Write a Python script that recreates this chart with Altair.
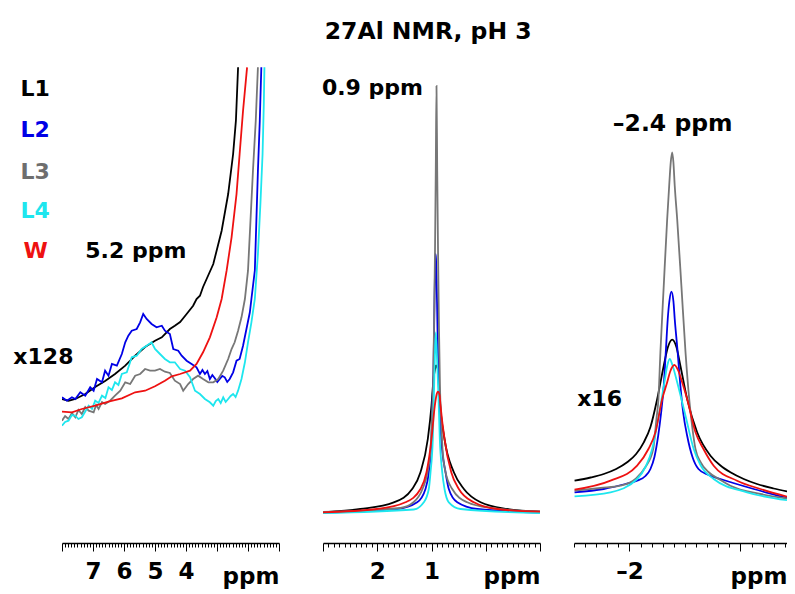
import altair as alt
import pandas as pd

FONT = "DejaVu Sans"
SERIES = ["L1", "L2", "L3", "L4", "W"]
COLORS = ["#000000", "#0000e6", "#777777", "#1ee6ee", "#ee1111"]

# ---------------- panel 1 (x128), ppm / intensity ----------------
P1_L1_PPM = [8.00, 7.79, 7.57, 7.25, 6.93, 6.61, 6.29, 5.96, 5.64, 5.32, 5.00, 4.78, 4.52, 4.36, 4.19, 3.98, 3.77, 3.66, 3.55, 3.45, 3.12, 2.85, 2.64, 2.48, 2.39, 2.32]
P1_L1_VAL = [144, 142.3, 144, 149, 156, 162, 169, 177.3, 187.3, 196, 202.3, 205.7, 214, 217.3, 221, 229, 237.3, 244, 247.3, 256, 279, 312.3, 349, 389, 422.3, 475.7]

P1_L2_PPM = [8.00, 7.84, 7.68, 7.57, 7.41, 7.25, 7.09, 6.98, 6.87, 6.71, 6.61, 6.50, 6.39, 6.23, 6.07, 5.96, 5.86, 5.75, 5.59, 5.48,
             5.38, 5.27, 5.11, 4.95, 4.78, 4.68, 4.52, 4.41, 4.25, 4.14, 3.98, 3.82, 3.66, 3.55, 3.47, 3.39, 3.31, 3.23, 3.15, 3.07,
             2.99, 2.91, 2.83, 2.75, 2.67, 2.59, 2.48, 2.37, 2.27, 2.16, 2.05, 1.94, 1.89, 1.78, 1.73, 1.68, 1.62, 1.57]
P1_L2_VAL = [145.7, 142.3, 145.7, 144, 150.7, 147.3, 155.7, 152.3, 164, 160.7, 172.3, 167.3, 179, 177.3, 189, 200.7, 207.3, 212.3, 214, 220.7,
             229, 224, 219, 215.7, 217.3, 212.3, 209, 194, 192.3, 187.3, 182.3, 179, 175.7, 169, 173, 169, 172, 164, 168, 164.7,
             161, 164, 167, 165.7, 161, 164, 170.7, 182.3, 184, 197.3, 214, 230.7, 244, 272.3, 322.3, 372.3, 422.3, 475.7]

P1_L3_PPM = [8.00, 7.90, 7.79, 7.68, 7.57, 7.47, 7.36, 7.25, 7.14, 6.98, 6.90, 6.82, 6.71, 6.61, 6.45, 6.29, 6.12, 5.96, 5.80, 5.64,
             5.48, 5.32, 5.16, 5.00, 4.84, 4.68, 4.52, 4.36, 4.19, 4.09, 3.93, 3.77, 3.61, 3.45, 3.28, 3.12, 2.96, 2.80, 2.64, 2.53,
             2.43, 2.32, 2.21, 2.10, 2.00, 1.92, 1.84, 1.75, 1.68]
P1_L3_VAL = [122.3, 127, 124, 130, 125.7, 133, 129, 136, 132.3, 130.7, 138, 134, 141, 139, 142.3, 147.3, 152.3, 160.7, 159, 167.3,
             169, 174, 172.3, 172.3, 174, 171.3, 170, 162.3, 159, 152.3, 159, 164, 167.3, 164, 160.7, 160.7,
             164, 172.3, 184, 194, 200.7, 212.3, 225.7, 244, 272.3, 322.3, 372.3, 422.3, 475.7]

P1_L4_PPM = [8.00, 7.90, 7.79, 7.68, 7.57, 7.47, 7.36, 7.14, 7.03, 6.93, 6.82, 6.71, 6.60, 6.50, 6.39, 6.29, 6.18, 6.07, 5.91, 5.75,
             5.59, 5.43, 5.27, 5.11, 5.00, 4.84, 4.68, 4.52, 4.36, 4.19, 4.03, 3.87, 3.71, 3.55, 3.39, 3.23, 3.12, 3.04, 2.96, 2.88,
             2.80, 2.72, 2.64, 2.56, 2.48, 2.40, 2.32, 2.21, 2.10, 2.00, 1.89, 1.78, 1.68, 1.60, 1.53, 1.49, 1.47]
P1_L4_VAL = [117.3, 121, 122.3, 128, 127.3, 124, 125.7, 137.3, 134, 142.3, 140, 147.3, 145, 155.7, 153, 160.7, 158, 169, 170.7, 185.7,
             187.3, 194, 197.3, 200.7, 194, 189, 184, 180.7, 180.7, 174, 172.3, 165.7, 152.3, 149, 144, 140.7, 137.3, 142, 144, 140,
             145.7, 141, 144, 147, 149, 146, 152.3, 164, 180.7, 200.7, 220.7, 244, 289, 339, 389, 439, 475.7]

P1_W_PPM = [8.00, 7.68, 7.36, 6.93, 6.50, 6.07, 5.64, 5.32, 5.00, 4.68, 4.46, 4.19, 3.87, 3.66, 3.45, 3.23, 3.01, 2.85, 2.69, 2.53, 2.37, 2.27, 2.16, 2.03]
P1_W_VAL = [131.3, 130.7, 134, 137.3, 141.3, 144.7, 150.7, 152.3, 156.7, 162.3, 166.7, 169, 172.3, 179, 190.7, 205.7, 225.7, 244, 272.3, 305.7, 349, 389, 432.3, 475.7]

# ---------------- panel 2 (0.9 ppm) ----------------
P2_L1_PPM = [3.0, 2.311, 1.696, 1.356, 1.203, 1.068, 1.0, 0.963, 0.935, 0.917, 0.895, 0.871, 0.847, 0.76, 0.588, 0.403, 0.095, -0.398, -1.0]
P2_L1_VAL = [30.7, 34, 40.7, 54, 70.7, 104, 137.3, 164, 174, 177.5, 176, 169, 144, 104, 70.7, 54, 40.7, 34, 31.3]

P2_L2_PPM = [3.0, 1.633, 1.264, 1.111, 1.05, 1.0, 0.981, 0.963, 0.945, 0.935, 0.926, 0.917, 0.898, 0.876, 0.852, 0.821, 0.741, 0.681, 0.525, 0.156, -1.0]
P2_L2_VAL = [30.5, 34, 40.7, 54, 70.7, 104, 141, 174, 241, 272, 289, 284, 241, 174, 141, 104, 70.7, 54, 40.7, 34, 30.5]

P2_L3_PPM = [3.0, 1.573, 1.332, 1.166, 1.074, 1.018, 0.994, 0.972, 0.954, 0.935, 0.921, 0.908, 0.895, 0.88, 0.862, 0.843, 0.821, 0.797, 0.741, 0.618, 0.341, -0.09, -1.0]
P2_L3_VAL = [31, 35, 40.7, 54, 70.7, 94, 124, 154, 214, 294, 374, 457, 374, 294, 214, 154, 124, 94, 70.7, 54, 40.7, 35, 31.5]

P2_L4_PPM = [3.0, 1.327, 1.142, 1.05, 1.018, 0.976, 0.957, 0.939, 0.921, 0.898, 0.876, 0.847, 0.802, 0.76, 0.681, 0.464, -1.0]
P2_L4_VAL = [30, 33.5, 40.7, 54, 70.7, 104, 144, 184, 210.7, 184, 154, 104, 70.7, 54, 40.7, 34, 30]

P2_W_PPM = [3.0, 2.003, 1.48, 1.203, 1.092, 1.0, 0.939, 0.908, 0.88, 0.852, 0.834, 0.76, 0.636, 0.496, 0.219, -0.213, -1.0]
P2_W_VAL = [30.7, 34, 40.7, 54, 70.7, 104, 137.3, 148, 151.3, 148, 137.3, 104, 70.7, 54, 40.7, 34, 31.3]

# ---------------- panel 3 (-2.4 ppm, x16) ----------------
P3_L1_PPM = [-1.505, -1.65, -1.768, -1.88, -1.979, -2.06, -2.129, -2.189, -2.25, -2.309, -2.347, -2.385, -2.423, -2.459, -2.52,
             -2.61, -2.73, -2.82, -2.91, -3.03, -3.15, -3.3, -3.42]
P3_L1_VAL = [62.3, 65.5, 69, 74, 80.7, 89, 100.7, 116, 144, 177.3, 196, 203.3, 196, 177.3, 144,
             110.7, 87.3, 77.5, 70.7, 64, 59, 54.5, 51.5]

P3_L2_PPM = [-1.505, -1.768, -1.964, -2.069, -2.144, -2.189, -2.225, -2.259, -2.284, -2.309, -2.329, -2.345, -2.36, -2.378,
             -2.396, -2.408, -2.432, -2.459, -2.486, -2.52, -2.568, -2.622, -2.712, -2.82, -3.12, -3.42]
P3_L2_VAL = [50.7, 54, 59, 62.3, 67, 74, 86, 107.3, 129, 157.3, 194, 224, 242, 251.3,
             242, 224, 194, 157.3, 129, 107.3, 86, 74, 68, 64, 54, 45]

P3_L3_PPM = [-1.505, -1.739, -1.919, -2.054, -2.144, -2.214, -2.243, -2.261, -2.279, -2.309, -2.34, -2.358, -2.372, -2.385,
             -2.396, -2.408, -2.43, -2.468, -2.505, -2.541, -2.568, -2.595, -2.64, -2.712, -2.82, -2.91, -3.18, -3.42]
P3_L3_VAL = [52.3, 55, 57.3, 64, 76, 94, 124, 144, 191, 257.3, 324, 357.3, 380.7, 390.7,
             380.7, 357.3, 324, 257.3, 191, 141, 114, 94, 81, 71, 63, 57.3, 49, 44.5]

P3_L4_PPM = [-1.505, -1.829, -2.069, -2.144, -2.205, -2.264, -2.315, -2.342, -2.363, -2.387, -2.43, -2.505, -2.579, -2.64, -2.759, -3.06, -3.42]
P3_L4_VAL = [46.7, 50.7, 64, 76, 94, 127.3, 160.7, 178, 184, 178, 160.7, 127.3, 94, 78, 64, 50.7, 42.8]

P3_W_PPM = [-1.505, -1.829, -2.069, -2.171, -2.234, -2.295, -2.34, -2.369, -2.405, -2.441, -2.475, -2.52, -2.595, -2.667, -2.759, -2.97, -3.18, -3.42]
P3_W_VAL = [53.3, 62.3, 77.3, 94, 110.7, 144, 160.7, 172, 178, 172, 160.7, 144, 110.7, 94, 77.3, 62.3, 54, 46.3]

# ---------------- annotations ----------------
P1_TEXT = ["L1", "L2", "L3", "L4", "W", "5.2 ppm", "x128"]
P1_TEXT_PPM = [9.34, 9.34, 9.34, 9.34, 9.24, 7.25, 9.57]
P1_TEXT_VAL = [447, 406, 364, 325, 285, 285, 179]
P1_TEXT_COL = ["#000000", "#0000e6", "#6e6e6e", "#1ee6ee", "#ee1111", "#000000", "#000000"]
P1_TEXT_SIZE = [22, 22, 22, 22, 22, 22, 22]

P2_TEXT = ["0.9 ppm"]
P2_TEXT_PPM = [3.02]
P2_TEXT_VAL = [448]
P2_TEXT_SIZE = [22]

P3_TEXT = ["\u20132.4 ppm", "x16"]
P3_TEXT_PPM = [-1.85, -1.53]
P3_TEXT_VAL = [412, 137.3]
P3_TEXT_SIZE = [23.5, 22]

H = 476
Y_DOMAIN = [0, 476]


def frame(series_data):
    rows = []
    for name, (pp, vv) in zip(SERIES, series_data):
        for i, (p, v) in enumerate(zip(pp, vv)):
            rows.append({"series": name, "ppm": p, "val": v, "i": i})
    return pd.DataFrame(rows)


def panel(df, domain, width, ticks, label_expr, tdf, interp):
    axis = alt.Axis(
        values=ticks, labelExpr=label_expr, title="ppm",
        titleX=width, titleY=40, titleAlign="right", titleBaseline="alphabetic",
        titleFont=FONT, titleFontSize=23, titleFontWeight="bold", titleColor="black",
        labelFont=FONT, labelFontSize=23, labelFontWeight="bold", labelColor="black",
        labelPadding=9, labelOverlap=False, labelFlush=False,
        tickSize={"condition": {"test": "abs(datum.value - round(datum.value)) < 0.01", "value": 8}, "value": 4},
        tickColor="black", tickWidth=1, domainColor="black", domainWidth=1.5, grid=False,
    )
    x = alt.X("ppm:Q", scale=alt.Scale(domain=domain, reverse=True, nice=False, zero=False), axis=axis)
    y = alt.Y("val:Q", scale=alt.Scale(domain=Y_DOMAIN, nice=False, zero=False), axis=None)
    lines = alt.Chart(df).mark_line(clip=True, strokeWidth=1.8, interpolate=interp).encode(
        x=x, y=y,
        color=alt.Color("series:N", scale=alt.Scale(domain=SERIES, range=COLORS), legend=None),
        order="i:Q",
    )
    texts = alt.Chart(tdf).mark_text(
        align="left", baseline="alphabetic", font=FONT, fontWeight="bold"
    ).encode(
        x=x, y=y, text="text:N",
        color=alt.Color("color:N", scale=None),
        size=alt.Size("size:Q", scale=None),
    )
    return alt.layer(lines, texts).properties(width=width, height=H)


df1 = frame([(P1_L1_PPM, P1_L1_VAL), (P1_L2_PPM, P1_L2_VAL), (P1_L3_PPM, P1_L3_VAL), (P1_L4_PPM, P1_L4_VAL), (P1_W_PPM, P1_W_VAL)])
df2 = frame([(P2_L1_PPM, P2_L1_VAL), (P2_L2_PPM, P2_L2_VAL), (P2_L3_PPM, P2_L3_VAL), (P2_L4_PPM, P2_L4_VAL), (P2_W_PPM, P2_W_VAL)])
df3 = frame([(P3_L1_PPM, P3_L1_VAL), (P3_L2_PPM, P3_L2_VAL), (P3_L3_PPM, P3_L3_VAL), (P3_L4_PPM, P3_L4_VAL), (P3_W_PPM, P3_W_VAL)])

t1 = pd.DataFrame({"text": P1_TEXT, "ppm": P1_TEXT_PPM, "val": P1_TEXT_VAL, "color": P1_TEXT_COL, "size": P1_TEXT_SIZE})
t2 = pd.DataFrame({"text": P2_TEXT, "ppm": P2_TEXT_PPM, "val": P2_TEXT_VAL, "color": ["#000000"], "size": P2_TEXT_SIZE})
t3 = pd.DataFrame({"text": P3_TEXT, "ppm": P3_TEXT_PPM, "val": P3_TEXT_VAL, "color": ["#000000", "#000000"], "size": P3_TEXT_SIZE})

ticks1 = [round(8 - 0.1 * i, 1) for i in range(71)]
ticks2 = [round(3 - 0.1 * i, 1) for i in range(41)]
ticks3 = [round(-1.5 - 0.1 * i, 1) for i in range(20)]

lab1 = "(abs(datum.value - round(datum.value)) < 0.01 && datum.value < 7.5 && datum.value > 3.5) ? format(round(datum.value), 'd') : ''"
lab2 = "(abs(datum.value - round(datum.value)) < 0.01 && datum.value < 2.5 && datum.value > 0.5) ? format(round(datum.value), 'd') : ''"
lab3 = "abs(datum.value + 2) < 0.01 ? '\u20132' : ''"

p1 = panel(df1, [1, 8], 217, ticks1, lab1, t1, "linear")
p2 = panel(df2, [-1, 3], 217, ticks2, lab2, t2, "monotone")
p3 = panel(df3, [-3.42, -1.5], 213, ticks3, lab3, t3, "monotone")

inner = alt.hconcat(p2, p3, spacing=34, bounds="flush")
chart = alt.hconcat(p1, inner, spacing=44).properties(
    title=alt.Title("27Al NMR, pH 3", font=FONT, fontSize=23.5, fontWeight="bold", color="black",
                    anchor="middle", baseline="alphabetic", offset=5, dx=28),
    padding={"left": 5, "top": 11, "right": 0, "bottom": 5},
    bounds="flush",
).configure_view(strokeWidth=0).configure_concat(spacing=0)

chart.save("out.html", embed_options={"renderer": "svg", "actions": False})
